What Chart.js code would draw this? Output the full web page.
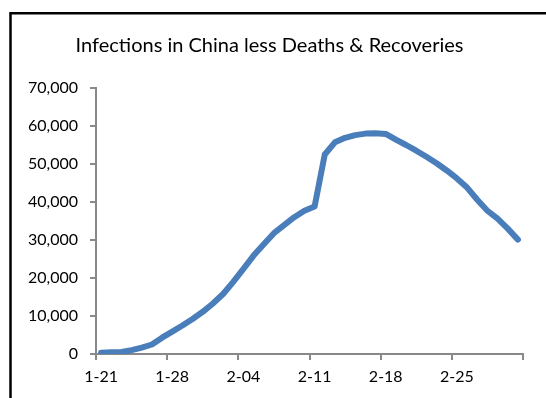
<!DOCTYPE html>
<html>
<head>
<meta charset="utf-8">
<script src="https://cdn.jsdelivr.net/npm/chart.js@4"></script>
<style>
  html, body { margin: 0; padding: 0; background: #ffffff; }
  #wrap { width: 546px; height: 398px; position: relative; }
</style>
</head>
<body>
<div id="wrap"><canvas id="c" width="546" height="398"></canvas></div>
<script>
// Daily dates, 21 Jan to 2 Mar
const days = [
  '1-21','1-22','1-23','1-24','1-25','1-26','1-27',
  '1-28','1-29','1-30','1-31','2-01','2-02','2-03',
  '2-04','2-05','2-06','2-07','2-08','2-09','2-10',
  '2-11','2-12','2-13','2-14','2-15','2-16','2-17',
  '2-18','2-19','2-20','2-21','2-22','2-23','2-24',
  '2-25','2-26','2-27','2-28','2-29','3-01','3-02'
];

// Active infections (confirmed minus deaths and recoveries)
const activeCases = [
  300, 450, 550, 1000, 1700, 2500, 4300,
  5900, 7500, 9200, 11100, 13300, 15800, 19000,
  22400, 25900, 28900, 31800, 33900, 36000, 37700,
  38800, 52500, 55700, 56900, 57600, 58000, 58100,
  57900, 56400, 55000, 53500, 51900, 50200, 48300,
  46200, 43800, 40600, 37700, 35600, 33000, 30100
];

// Weekly labels shown on the date axis
const weekLabels = ['1-21', '1-28', '2-04', '2-11', '2-18', '2-25'];

const yTicks = [0, 10000, 20000, 30000, 40000, 50000, 60000, 70000];

const axisGray = '#898989';
const fontFamily = 'Lato, "Open Sans", sans-serif';

// Frame lines along the left and top of the chart box
const framePlugin = {
  id: 'frame',
  beforeDraw(chart) {
    const ctx = chart.ctx;
    ctx.save();
    ctx.fillStyle = '#ffffff';
    ctx.fillRect(0, 0, chart.width, chart.height);
    ctx.strokeStyle = '#000000';
    ctx.lineWidth = 2.5;
    ctx.beginPath();
    ctx.moveTo(10.5, chart.height);
    ctx.lineTo(10.5, 13.2);
    ctx.lineTo(chart.width, 13.2);
    ctx.stroke();
    ctx.restore();
  }
};

new Chart(document.getElementById('c'), {
  type: 'line',
  data: {
    labels: days,
    datasets: [{
      data: activeCases,
      borderColor: '#4a7ebb',
      borderWidth: 6,
      borderCapStyle: 'round',
      borderJoinStyle: 'round',
      pointRadius: 0,
      tension: 0,
      fill: false
    }]
  },
  options: {
    responsive: false,
    animation: false,
    devicePixelRatio: 1,
    layout: { padding: { left: 16, right: 23, top: 0, bottom: 0 } },
    plugins: {
      legend: { display: false },
      tooltip: { enabled: false },
      title: {
        display: true,
        text: 'Infections in China less Deaths & Recoveries',
        color: '#000000',
        font: { family: fontFamily, size: 20, weight: 'normal' },
        padding: { top: 34, bottom: 30 }
      }
    },
    scales: {
      x: {
        type: 'category',
        offset: true,
        grid: {
          offset: true,
          drawOnChartArea: false,
          drawTicks: true,
          tickLength: 6,
          lineWidth: 2,
          tickColor: (ctx) => (ctx.index === undefined || ctx.index % 7 === 0) ? axisGray : 'rgba(0,0,0,0)'
        },
        border: { display: true, color: axisGray, width: 2 },
        ticks: {
          autoSkip: false,
          maxRotation: 0,
          minRotation: 0,
          padding: 7,
          color: '#000000',
          font: { family: fontFamily, size: 16 },
          callback: function (value) {
            const lab = this.getLabelForValue(value);
            return weekLabels.includes(lab) ? lab : '';
          }
        },
        afterFit: (scale) => { scale.height = 44; }
      },
      y: {
        min: 0,
        max: 70000,
        afterBuildTicks: (scale) => { scale.ticks = yTicks.map(v => ({ value: v })); },
        grid: {
          drawOnChartArea: false,
          drawTicks: true,
          tickLength: 6,
          lineWidth: 2,
          tickColor: axisGray
        },
        border: { display: true, color: axisGray, width: 2 },
        ticks: {
          padding: 12,
          color: '#000000',
          font: { family: fontFamily, size: 16 },
          callback: (v) => v.toLocaleString('en-US')
        },
        afterFit: (scale) => { scale.width = 80; }
      }
    }
  },
  plugins: [framePlugin]
});
</script>
</body>
</html>
